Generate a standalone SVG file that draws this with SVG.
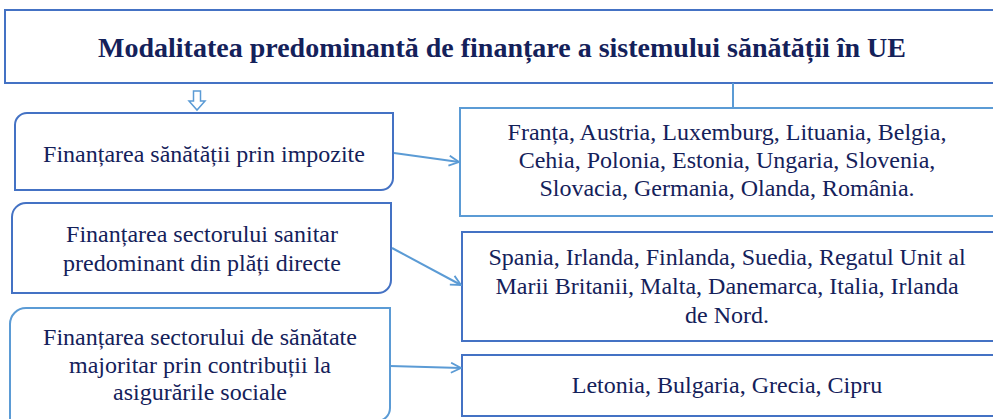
<svg xmlns="http://www.w3.org/2000/svg" width="993" height="419" viewBox="0 0 993 419">
<defs>
<marker id="ah" viewBox="0 0 12 12" refX="11" refY="6" markerWidth="12" markerHeight="12" markerUnits="userSpaceOnUse" orient="auto">
<path d="M1,1 L11,6 L1,11" fill="none" stroke="#5B9BD5" stroke-width="1.8"/>
</marker>
</defs>
<g id="title">
<rect fill="#fff" stroke="#4472C4" stroke-width="2" x="5" y="10" width="1000" height="73"/>
<text font-family="Times New Roman, serif" font-weight="bold" font-size="28" fill="#14215A" text-anchor="middle" x="502" y="57">Modalitatea predominantă de finanțare a sistemului sănătății în UE</text>
</g>
<g id="L1">
<path fill="#fff" stroke="#4472C4" stroke-width="2" d="M27,113 H393 V178 A12,12 0 0 1 381,190 H15 V125 A12,12 0 0 1 27,113 Z"/>
<text x="204" y="162" text-anchor="middle"><tspan font-family="Liberation Serif" font-size="24" fill="#14215A">Finanțarea sănătății prin impozite</tspan></text>
</g>
<g id="L2">
<path fill="#fff" stroke="#4472C4" stroke-width="2" d="M26,203 H391 V280 A13,13 0 0 1 378,293 H12 V217 A14,14 0 0 1 26,203 Z"/>
<text font-family="Tinos, serif" font-size="24" fill="#14215A" text-anchor="middle" x="202" y="242">Finanțarea sectorului sanitar</text>
<text font-family="Tinos, serif" font-size="24" fill="#14215A" text-anchor="middle" x="202" y="271">predominant din plăți directe</text>
</g>
<g id="L3">
<path fill="#fff" stroke="#5B9BD5" stroke-width="2" d="M26,308 H390 V408 A13,13 0 0 1 377,421 H10 V324 A16,16 0 0 1 26,308 Z"/>
<text font-family="serif" font-size="24" fill="#14215A" text-anchor="middle" x="200" y="345">Finanțarea sectorului de sănătate</text>
<text font-family="serif" font-size="24" fill="#14215A" text-anchor="middle" x="200" y="373">majoritar prin contribuții la</text>
<text font-family="serif" font-size="24" fill="#14215A" text-anchor="middle" x="200" y="400">asigurările sociale</text>
</g>
<g id="R1">
<rect fill="#fff" stroke="#5B9BD5" stroke-width="2" x="460" y="108" width="540" height="108"/>
<text font-family="Liberation Serif" font-size="24" x="727" y="140" fill="#14215A" text-anchor="middle">Franța, Austria, Luxemburg, Lituania, Belgia,</text>
<text font-family="Liberation Serif" font-size="24" x="727" y="168" fill="#14215A" text-anchor="middle">Cehia, Polonia, Estonia, Ungaria, Slovenia,</text>
<text font-family="Liberation Serif" font-size="24" x="727" y="196" fill="#14215A" text-anchor="middle">Slovacia, Germania, Olanda, România.</text>
</g>
<g id="R2">
<rect fill="#fff" stroke="#4472C4" stroke-width="2" x="462" y="232" width="540" height="109"/>
<text font-family="Liberation Serif" font-size="24px" fill="#14215A" text-anchor="middle" x="727" y="265">Spania, Irlanda, Finlanda, Suedia, Regatul Unit al</text>
<text font-family="Liberation Serif" font-size="24px" fill="#14215A" text-anchor="middle" x="727" y="294">Marii Britanii, Malta, Danemarca, Italia, Irlanda</text>
<text font-family="Liberation Serif" font-size="24px" fill="#14215A" text-anchor="middle" x="727" y="323">de Nord.</text>
</g>
<g id="R3">
<rect fill="#fff" stroke="#4472C4" stroke-width="2" x="462" y="355" width="540" height="61"/>
<text font-family="Liberation Serif" font-size="24" fill="#14215A" text-anchor="middle" x="727" y="393">Letonia, Bulgaria, Grecia, Cipru</text>
</g>
<g id="connectors" fill="none" stroke="#5B9BD5" stroke-width="2">
<path d="M193.5,91 H200.5 V101 H205 L197,110 L189,101 H193.5 Z" fill="#fff" stroke-width="1.5"/>
<line x1="733" y1="83" x2="733" y2="108"/>
<line x1="394" y1="153" x2="459" y2="162" marker-end="url(#ah)"/>
<line x1="392" y1="248" x2="461" y2="285" marker-end="url(#ah)"/>
<line x1="390" y1="366" x2="461" y2="368" marker-end="url(#ah)"/>
</g>
</svg>
